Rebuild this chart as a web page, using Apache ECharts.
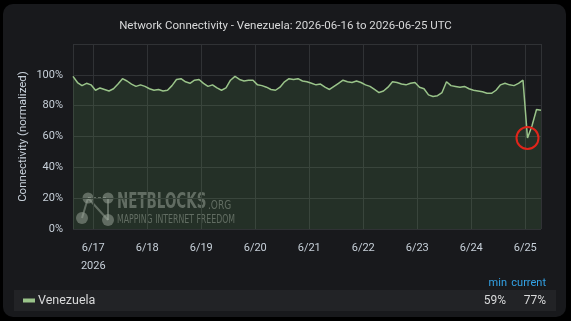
<!DOCTYPE html>
<html>
<head>
<meta charset="utf-8">
<script src="https://cdn.jsdelivr.net/npm/echarts@6/dist/echarts.min.js"></script>
<style>
  html, body { margin: 0; padding: 0; background: #000; }
  .panel { position: absolute; left: 3px; top: 4px; width: 563px; height: 313px; background: #18191c; border-radius: 10px; }
  #chart { position: absolute; left: 0; top: 0; width: 571px; height: 321px; }
</style>
</head>
<body>
<div class="panel"></div>
<div id="chart"></div>
<script>
  // samples every 2 hours starting 2026-06-16 15:00 UTC
  const sampleStart = Date.UTC(2026, 5, 16, 15, 0, 0)
  const sampleStepHours = 2
  const country = 'Venezuela'
  const yearLabel = '2026'
  const connectivity = [
    99, 95, 93, 94.5, 93.5, 90, 91.5, 90.5, 89.5, 91,
    94, 97.5, 96, 94, 92.5, 93.5, 92.5, 91, 90, 90.5,
    89.5, 90, 93, 97, 97.5, 95.5, 94.5, 96.5, 97, 94.5,
    92.5, 93.5, 91.5, 90, 91.5, 96.5, 99, 97, 96, 96.5,
    96.5, 93.5, 93, 92, 90.5, 90, 92, 95.5, 97.5, 97,
    97.5, 96, 95.5, 94.5, 93.5, 94, 92, 90.5, 92.5, 94.5,
    96.5, 95.5, 95, 96, 95, 93.5, 92.5, 90.5, 88.5, 89.5,
    92, 95.5, 95, 94, 93.5, 94.5, 95, 92, 91, 87,
    86, 86.5, 88.5, 95.5, 93, 92.5, 92, 92.5, 91, 90,
    89.5, 89, 88, 88, 90, 93.5, 94.5, 93.5, 93, 94.5,
    96.5, 59, 67, 77.5, 77
  ]
  const yTicks = [0, 20, 40, 60, 80, 100, 120]

  const HOUR = 3600 * 1000
  const DAY = 24 * HOUR
  const seriesData = connectivity.map((v, i) => [sampleStart + i * sampleStepHours * HOUR, v])
  const endTime = sampleStart + (connectivity.length - 1) * sampleStepHours * HOUR

  const minVal = Math.min(...connectivity)
  const minIdx = connectivity.indexOf(minVal)
  const currentVal = connectivity[connectivity.length - 1]

  const textColor = '#c7d0d9'
  const gridColor = '#303235'
  const lineColor = '#9ac48a'
  const font = 'Roboto, "Noto Sans", sans-serif'

  const chart = echarts.init(document.getElementById('chart'))

  // netblocks watermark (decoration only)
  const wmColor = 'rgba(165,165,165,0.5)'
  const wmFont = '"DejaVu Sans", sans-serif'
  const watermark = [
    { type: 'line', shape: { x1: 88, y1: 198, x2: 108, y2: 198 }, style: { stroke: wmColor, lineWidth: 2, lineDash: [3, 2] } },
    { type: 'line', shape: { x1: 88, y1: 198, x2: 82, y2: 218 }, style: { stroke: wmColor, lineWidth: 2 } },
    { type: 'line', shape: { x1: 88, y1: 198, x2: 108, y2: 220 }, style: { stroke: wmColor, lineWidth: 2 } },
    { type: 'line', shape: { x1: 108, y1: 198, x2: 108, y2: 220 }, style: { stroke: wmColor, lineWidth: 2 } },
    { type: 'circle', shape: { cx: 88, cy: 198, r: 5.5 }, style: { fill: wmColor } },
    { type: 'circle', shape: { cx: 108, cy: 198, r: 5.5 }, style: { fill: wmColor } },
    { type: 'circle', shape: { cx: 82, cy: 218, r: 6 }, style: { fill: wmColor } },
    { type: 'circle', shape: { cx: 108, cy: 220, r: 6 }, style: { fill: wmColor } },
    { type: 'text', x: 117, y: 203, scaleX: 0.64, style: { text: 'NETBLOCKS', fill: wmColor, font: 'bold 21px ' + wmFont, verticalAlign: 'middle' } },
    { type: 'text', x: 208, y: 206, scaleX: 0.75, style: { text: '.ORG', fill: wmColor, font: '12px ' + wmFont, verticalAlign: 'middle' } },
    { type: 'text', x: 117, y: 220, scaleX: 0.65, style: { text: 'MAPPING INTERNET FREEDOM', fill: wmColor, font: '12px ' + wmFont, verticalAlign: 'middle' } }
  ]

  // legend table under the plot
  const legendTable = [
    { type: 'rect', shape: { x: 14, y: 290, width: 542, height: 21 }, style: { fill: '#222326' } },
    { type: 'rect', shape: { x: 23, y: 298.5, width: 12, height: 4 }, style: { fill: lineColor } },
    { type: 'text', x: 38, y: 300.5, style: { text: country, fill: '#d8d9da', font: '12.5px ' + font, verticalAlign: 'middle' } },
    { type: 'text', x: 507, y: 283, style: { text: 'min', fill: '#33a2e5', font: '11px ' + font, align: 'right', verticalAlign: 'middle' } },
    { type: 'text', x: 546, y: 283, style: { text: 'current', fill: '#33a2e5', font: '11px ' + font, align: 'right', verticalAlign: 'middle' } },
    { type: 'text', x: 506, y: 300.5, style: { text: Math.round(minVal) + '%', fill: '#d8d9da', font: '12px ' + font, align: 'right', verticalAlign: 'middle' } },
    { type: 'text', x: 546, y: 300.5, style: { text: Math.round(currentVal) + '%', fill: '#d8d9da', font: '12px ' + font, align: 'right', verticalAlign: 'middle' } }
  ]

  const option = {
    useUTC: true,
    animation: false,
    backgroundColor: 'transparent',
    textStyle: { fontFamily: font },
    title: {
      text: 'Network Connectivity - ' + country + ': 2026-06-16 to 2026-06-25 UTC',
      left: 'center',
      top: 15,
      textStyle: { color: '#d8d9da', fontSize: 11.5, fontWeight: 'normal', fontFamily: font }
    },
    grid: { left: 73, right: 30, top: 44, bottom: 92 },
    xAxis: {
      type: 'time',
      min: sampleStart,
      max: endTime,
      minInterval: DAY,
      maxInterval: DAY,
      axisLine: { show: false },
      axisTick: { show: false },
      splitLine: { show: true, lineStyle: { color: gridColor, width: 1 } },
      axisLabel: {
        color: textColor,
        fontSize: 11,
        margin: 10,
        lineHeight: 18,
        showMinLabel: false,
        showMaxLabel: false,
        formatter: (val) => {
          const d = new Date(val)
          let s = (d.getUTCMonth() + 1) + '/' + d.getUTCDate()
          if (d.getUTCDate() === 17) s += '\n' + yearLabel
          return s
        }
      }
    },
    yAxis: {
      type: 'value',
      min: yTicks[0],
      max: yTicks[yTicks.length - 1],
      interval: 20,
      name: 'Connectivity (normalized)',
      nameLocation: 'middle',
      nameGap: 44,
      nameMoveOverlap: false,
      nameTextStyle: { color: textColor, fontSize: 11.5 },
      axisLine: { show: false },
      axisTick: { show: false },
      splitLine: { lineStyle: { color: gridColor, width: 1 } },
      axisLabel: {
        color: textColor,
        fontSize: 11,
        margin: 10,
        formatter: (v) => (v > 100 ? '' : v + '%')
      }
    },
    series: [
      {
        name: country,
        type: 'line',
        data: seriesData,
        showSymbol: false,
        lineStyle: { color: lineColor, width: 1.5 },
        itemStyle: { color: lineColor },
        areaStyle: { color: 'rgba(115,191,105,0.2)' },
        markPoint: {
          symbol: 'circle',
          symbolSize: 22,
          label: { show: false },
          itemStyle: { color: 'rgba(0,0,0,0)', borderColor: '#e0251b', borderWidth: 2 },
          data: [{ coord: seriesData[minIdx] }]
        }
      }
    ],
    graphic: watermark.concat(legendTable)
  }

  chart.setOption(option)
</script>
</body>
</html>
